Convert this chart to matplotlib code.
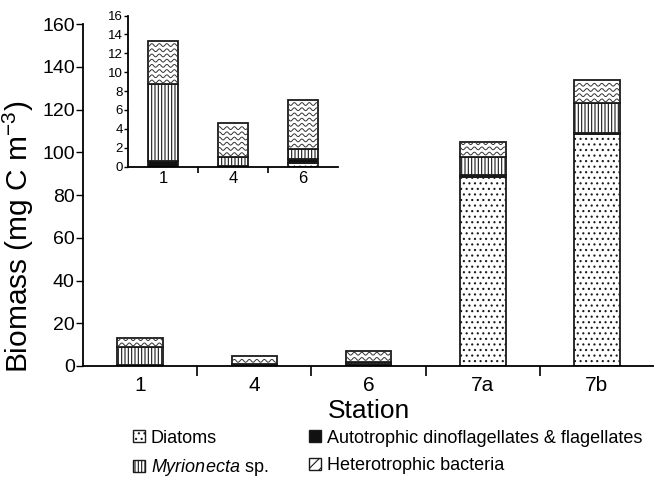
import matplotlib
matplotlib.use("Agg")
import matplotlib.pyplot as plt
import numpy as np
from matplotlib.lines import Line2D
from matplotlib.patches import Patch
from matplotlib.transforms import IdentityTransform, Bbox

plt.rcParams["font.family"] = ["Liberation Sans", "DejaVu Sans"]
plt.rcParams["mathtext.fontset"] = "custom"
plt.rcParams["mathtext.rm"] = "Liberation Sans"
plt.rcParams["mathtext.it"] = "Liberation Sans:italic"
plt.rcParams["hatch.linewidth"] = 0.8

stations = ["1", "4", "6", "7a", "7b"]
diatoms = [0.0, 0.0, 0.4, 88.5, 108.5]
autotrophic = [0.6, 0.1, 0.4, 1.0, 0.6]
myrionecta = [8.1, 0.9, 1.1, 8.5, 13.8]
heterotrophic = [4.6, 3.6, 5.2, 7.0, 11.0]

inset_idx = [0, 1, 2]

EDGE = "#1a1a1a"


def stacked(ax, idx, width):
    x = np.arange(len(idx))
    d = np.array([diatoms[i] for i in idx])
    a = np.array([autotrophic[i] for i in idx])
    m = np.array([myrionecta[i] for i in idx])
    h = np.array([heterotrophic[i] for i in idx])
    kw = dict(width=width, edgecolor=EDGE, linewidth=1.3)
    ax.bar(x, d, color="white", hatch="...", **kw)
    ax.bar(x, a, bottom=d, color="#111111", **kw)
    ax.bar(x, m, bottom=d + a, color="white", hatch="|||||", **kw)
    hb = ax.bar(x, h, bottom=d + a + m, color="white", **kw)
    return hb


def style_axes(ax, labels, xfs, yfs, ticklen, xpad):
    n = len(labels)
    ax.spines["top"].set_visible(False)
    ax.spines["right"].set_visible(False)
    ax.set_xlim(-0.5, n - 0.5)
    ax.set_xticks(np.arange(n))
    ax.set_xticklabels(labels, fontsize=xfs)
    ax.tick_params(axis="x", which="major", length=0, pad=xpad)
    ax.set_xticks(np.arange(n - 1) + 0.5, minor=True)
    ax.tick_params(axis="x", which="minor", length=ticklen, width=1.2,
                   direction="out")
    ax.tick_params(axis="y", length=ticklen * 0.7, width=1.0, labelsize=yfs,
                   pad=1)
    for s in ("left", "bottom"):
        ax.spines[s].set_linewidth(1.3)


fig = plt.figure(figsize=(6.54, 4.87), dpi=100)

ax = fig.add_axes([0.127, 0.2485, 0.873, 0.702])
hb_main = stacked(ax, range(len(stations)), 0.4)
style_axes(ax, stations, 15, 14, 7, 7)
ax.set_ylim(0, 160)
ax.set_yticks(np.arange(0, 161, 20))
ax.set_ylabel("Biomass (mg C m$^{-3}$)", fontsize=21.5)
ax.yaxis.set_label_coords(-0.082, 0.377)
ax.set_xlabel("Station", fontsize=19, labelpad=3)

axi = fig.add_axes([0.196, 0.658, 0.321, 0.310])
hb_inset = stacked(axi, inset_idx, 0.43)
style_axes(axi, [stations[i] for i in inset_idx], 12, 9.5, 4, 3)
axi.set_ylim(0, 16)
axi.set_yticks(np.arange(0, 17, 2))
axi.patch.set_alpha(0)

# wavy fill for heterotrophic bacteria
fig.canvas.draw()
renderer = fig.canvas.get_renderer()
for target, bars in ((ax, hb_main), (axi, hb_inset)):
    for p in bars.patches:
        bb = p.get_window_extent(renderer)
        clip = Bbox.from_extents(bb.x0 + 1.5, bb.y0 + 1.0, bb.x1 - 1.5, bb.y1 - 1.5)
        xs = np.arange(bb.x0, bb.x1, 0.5)
        y = bb.y0 + 3.0
        while y < bb.y1 - 1.5:
            ys = y + 1.4 * np.sin(2 * np.pi * xs / 7.5)
            ln = Line2D(xs, ys, color="#333333", linewidth=0.7,
                        transform=IdentityTransform())
            ln.set_clip_box(clip)
            target.add_artist(ln)
            y += 5.2

handles = [
    Patch(facecolor="white", edgecolor=EDGE, hatch="...", label="Diatoms"),
    Patch(facecolor="white", edgecolor=EDGE, hatch="|||||",
          label="$\\it{Myrionecta}$ sp."),
    Patch(facecolor="#111111", edgecolor=EDGE,
          label="Autotrophic dinoflagellates & flagellates"),
    Patch(facecolor="white", edgecolor=EDGE, hatch="///",
          label="Heterotrophic bacteria"),
]
fig.legend(handles=handles, ncol=2, loc="upper left",
           bbox_to_anchor=(0.204, 0.118), frameon=False, fontsize=13,
           handlelength=0.65, handleheight=0.65, handletextpad=0.3,
           borderpad=0, borderaxespad=0, columnspacing=2.3,
           labelspacing=0.6)

fig.savefig("out.png", dpi=100)
